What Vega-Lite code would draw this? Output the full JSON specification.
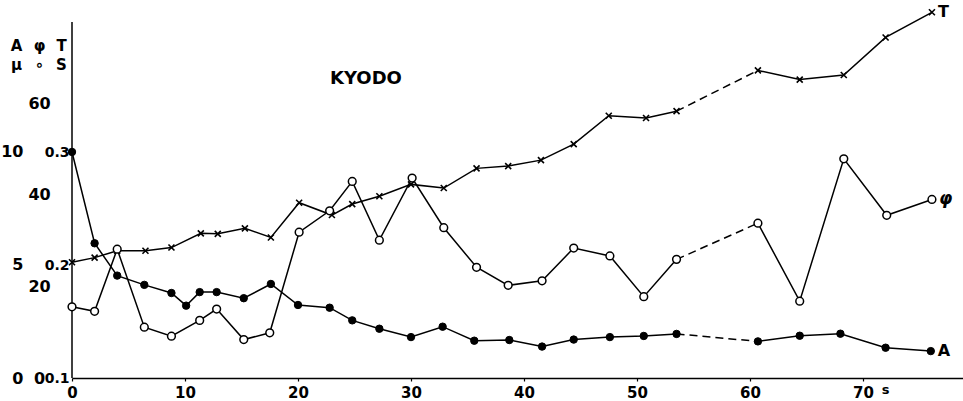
{
  "$schema": "https://vega.github.io/schema/vega-lite/v6.json",
  "width": 891,
  "height": 368,
  "autosize": "none",
  "padding": {"left": 72, "top": 10, "right": 0, "bottom": 23},
  "background": "white",
  "title": {"text": "KYODO", "anchor": "start", "frame": "group", "orient": "top", "offset": 0, "dx": 258, "dy": 84, "baseline": "top", "fontSize": 18, "font": "DejaVu Sans", "fontWeight": "bold", "color": "black"},
  "config": {"view": {"stroke": null}, "font": "DejaVu Sans"},
  "data": {"values": [
    {"series": "T", "t": 0, "v": 25.3}, {"series": "T", "t": 2.0, "v": 26.3}, {"series": "T", "t": 4.0, "v": 27.8}, {"series": "T", "t": 6.5, "v": 27.8},
    {"series": "T", "t": 8.8, "v": 28.5}, {"series": "T", "t": 11.4, "v": 31.6}, {"series": "T", "t": 12.9, "v": 31.5}, {"series": "T", "t": 15.3, "v": 32.7},
    {"series": "T", "t": 17.6, "v": 30.7}, {"series": "T", "t": 20.1, "v": 38.3}, {"series": "T", "t": 23.0, "v": 35.6}, {"series": "T", "t": 24.8, "v": 38.0},
    {"series": "T", "t": 27.2, "v": 39.7}, {"series": "T", "t": 30.0, "v": 42.3}, {"series": "T", "t": 32.9, "v": 41.5}, {"series": "T", "t": 35.8, "v": 45.8},
    {"series": "T", "t": 38.6, "v": 46.3}, {"series": "T", "t": 41.5, "v": 47.6}, {"series": "T", "t": 44.4, "v": 51.1}, {"series": "T", "t": 47.5, "v": 57.3},
    {"series": "T", "t": 50.8, "v": 56.8}, {"series": "T", "t": 53.5, "v": 58.3}, {"series": "T", "t": 60.7, "v": 67.2}, {"series": "T", "t": 64.4, "v": 65.2},
    {"series": "T", "t": 68.3, "v": 66.2}, {"series": "T", "t": 72.0, "v": 74.4}, {"series": "T", "t": 76.1, "v": 79.9},
    {"series": "φ", "t": 0, "v": 0.163}, {"series": "φ", "t": 2.0, "v": 0.159}, {"series": "φ", "t": 4.0, "v": 0.214}, {"series": "φ", "t": 6.4, "v": 0.145},
    {"series": "φ", "t": 8.8, "v": 0.137}, {"series": "φ", "t": 11.3, "v": 0.151}, {"series": "φ", "t": 12.8, "v": 0.161}, {"series": "φ", "t": 15.2, "v": 0.134},
    {"series": "φ", "t": 17.5, "v": 0.140}, {"series": "φ", "t": 20.1, "v": 0.229}, {"series": "φ", "t": 22.8, "v": 0.248}, {"series": "φ", "t": 24.8, "v": 0.274},
    {"series": "φ", "t": 27.2, "v": 0.222}, {"series": "φ", "t": 30.1, "v": 0.277}, {"series": "φ", "t": 32.9, "v": 0.233}, {"series": "φ", "t": 35.8, "v": 0.198},
    {"series": "φ", "t": 38.6, "v": 0.182}, {"series": "φ", "t": 41.6, "v": 0.186}, {"series": "φ", "t": 44.4, "v": 0.215}, {"series": "φ", "t": 47.6, "v": 0.208},
    {"series": "φ", "t": 50.6, "v": 0.172}, {"series": "φ", "t": 53.5, "v": 0.205}, {"series": "φ", "t": 60.7, "v": 0.237}, {"series": "φ", "t": 64.4, "v": 0.168},
    {"series": "φ", "t": 68.3, "v": 0.294}, {"series": "φ", "t": 72.1, "v": 0.244}, {"series": "φ", "t": 76.1, "v": 0.258},
    {"series": "A", "t": 0, "v": 10.0}, {"series": "A", "t": 2.0, "v": 5.96}, {"series": "A", "t": 4.0, "v": 4.53}, {"series": "A", "t": 6.4, "v": 4.12},
    {"series": "A", "t": 8.8, "v": 3.76}, {"series": "A", "t": 10.1, "v": 3.2}, {"series": "A", "t": 11.3, "v": 3.8}, {"series": "A", "t": 12.8, "v": 3.8},
    {"series": "A", "t": 15.2, "v": 3.53}, {"series": "A", "t": 17.6, "v": 4.16}, {"series": "A", "t": 20.0, "v": 3.23}, {"series": "A", "t": 22.8, "v": 3.11},
    {"series": "A", "t": 24.8, "v": 2.55}, {"series": "A", "t": 27.2, "v": 2.18}, {"series": "A", "t": 30.0, "v": 1.81}, {"series": "A", "t": 32.8, "v": 2.27},
    {"series": "A", "t": 35.6, "v": 1.65}, {"series": "A", "t": 38.7, "v": 1.68}, {"series": "A", "t": 41.6, "v": 1.39}, {"series": "A", "t": 44.4, "v": 1.70},
    {"series": "A", "t": 47.6, "v": 1.81}, {"series": "A", "t": 50.6, "v": 1.86}, {"series": "A", "t": 53.5, "v": 1.95}, {"series": "A", "t": 60.7, "v": 1.62},
    {"series": "A", "t": 64.4, "v": 1.87}, {"series": "A", "t": 68.0, "v": 1.96}, {"series": "A", "t": 72.0, "v": 1.34}, {"series": "A", "t": 76.0, "v": 1.19}
  ]},
  "encoding": {
    "x": {"field": "t", "type": "quantitative", "scale": {"domain": [0, 78.85], "nice": false, "zero": false},
      "axis": {"values": [0, 10, 20, 30, 40, 50, 60, 70], "grid": false, "domainColor": "black", "domainWidth": 1.5, "tickColor": "black", "tickSize": 3, "tickWidth": 1.2,
        "labelFontSize": 15, "labelFontWeight": "bold", "labelColor": "black", "labelPadding": 4, "labelFlush": false,
        "title": "s", "titleFontSize": 13, "titleFontWeight": "bold", "titleColor": "black", "titleX": 813, "titleY": 5, "titleAlign": "center", "titleBaseline": "top"}}
  },
  "layer": [
    {
      "transform": [{"filter": "datum.series === 'T'"}],
      "encoding": {"y": {"field": "v", "type": "quantitative", "scale": {"domain": [0, 80.4], "nice": false, "zero": false},
        "axis": {"orient": "left", "values": [0, 20, 40, 60], "domain": false, "ticks": false, "tickSize": 0, "grid": false,
          "labelPadding": 33, "labelAlign": "center", "labelFontSize": 16, "labelFontWeight": "bold", "labelColor": "black",
          "title": ["T", "S"], "titleAngle": 0, "titleX": -11, "titleY": 28, "titleAlign": "center", "titleBaseline": "top", "titleFontSize": 15, "titleFontWeight": "bold", "titleColor": "black", "titleLineHeight": 19}}},
      "layer": [
        {"transform": [{"filter": "datum.t > 75"}], "mark": {"type": "rule", "color": "black", "strokeWidth": 1.5}, "encoding": {"x": {"datum": 0}, "y": {"datum": 0}, "y2": {"datum": 77.8}}},
        {"transform": [{"filter": {"field": "t", "range": [0, 53.5]}}], "mark": {"type": "line", "color": "black", "strokeWidth": 1.5}},
        {"transform": [{"filter": {"field": "t", "range": [53.5, 60.7]}}], "mark": {"type": "line", "color": "black", "strokeWidth": 1.5, "strokeDash": [8, 5]}},
        {"transform": [{"filter": {"field": "t", "range": [60.7, 80]}}], "mark": {"type": "line", "color": "black", "strokeWidth": 1.5}},
        {"mark": {"type": "point", "shape": "M-1,-1L1,1M1,-1L-1,1", "size": 36, "stroke": "black", "strokeWidth": 1.6, "filled": false, "opacity": 1}},
        {"transform": [{"filter": "datum.t > 75"}], "mark": {"type": "text", "align": "left", "baseline": "middle", "dx": 6, "fontSize": 16, "fontWeight": "bold", "color": "black"}, "encoding": {"text": {"field": "series"}}}
      ]
    },
    {
      "transform": [{"filter": "datum.series === 'φ'"}],
      "encoding": {"y": {"field": "v", "type": "quantitative", "scale": {"domain": [0.1, 0.4257], "nice": false, "zero": false},
        "axis": {"orient": "left", "values": [0.1, 0.2, 0.3], "format": ".1f", "domain": false, "ticks": false, "tickSize": 0, "grid": false,
          "labelPadding": 3, "labelFontSize": 14, "labelFontWeight": "bold", "labelColor": "black",
          "title": ["φ", "∘"], "titleAngle": 0, "titleX": -33, "titleY": 28, "titleAlign": "center", "titleBaseline": "top", "titleFontSize": 15, "titleFontWeight": "bold", "titleColor": "black", "titleLineHeight": 19}}},
      "layer": [
        {"transform": [{"filter": {"field": "t", "range": [0, 53.5]}}], "mark": {"type": "line", "color": "black", "strokeWidth": 1.5}},
        {"transform": [{"filter": {"field": "t", "range": [53.5, 60.7]}}], "mark": {"type": "line", "color": "black", "strokeWidth": 1.5, "strokeDash": [8, 5]}},
        {"transform": [{"filter": {"field": "t", "range": [60.7, 80]}}], "mark": {"type": "line", "color": "black", "strokeWidth": 1.5}},
        {"mark": {"type": "point", "shape": "circle", "size": 60, "fill": "white", "stroke": "black", "strokeWidth": 1.5, "opacity": 1}},
        {"transform": [{"filter": "datum.t > 75"}], "mark": {"type": "text", "align": "left", "baseline": "middle", "dx": 7, "fontSize": 17, "fontStyle": "italic", "fontWeight": "bold", "color": "black"}, "encoding": {"text": {"field": "series"}}}
      ]
    },
    {
      "transform": [{"filter": "datum.series === 'A'"}],
      "encoding": {"y": {"field": "v", "type": "quantitative", "scale": {"domain": [0, 16.28], "nice": false, "zero": false},
        "axis": {"orient": "left", "values": [0, 5, 10], "domain": false, "ticks": false, "tickSize": 0, "grid": false,
          "labelPadding": 49, "labelFontSize": 16, "labelFontWeight": "bold", "labelColor": "black",
          "title": ["A", "μ"], "titleAngle": 0, "titleX": -56, "titleY": 28, "titleAlign": "center", "titleBaseline": "top", "titleFontSize": 15, "titleFontWeight": "bold", "titleColor": "black", "titleLineHeight": 19}}},
      "layer": [
        {"transform": [{"filter": {"field": "t", "range": [0, 53.5]}}], "mark": {"type": "line", "color": "black", "strokeWidth": 1.5}},
        {"transform": [{"filter": {"field": "t", "range": [53.5, 60.7]}}], "mark": {"type": "line", "color": "black", "strokeWidth": 1.5, "strokeDash": [8, 5]}},
        {"transform": [{"filter": {"field": "t", "range": [60.7, 80]}}], "mark": {"type": "line", "color": "black", "strokeWidth": 1.5}},
        {"mark": {"type": "point", "shape": "circle", "size": 55, "fill": "black", "stroke": "black", "strokeWidth": 1, "filled": true, "opacity": 1}},
        {"transform": [{"filter": "datum.t > 75"}], "mark": {"type": "text", "align": "left", "baseline": "middle", "dx": 7, "fontSize": 16, "fontWeight": "bold", "color": "black"}, "encoding": {"text": {"field": "series"}}}
      ]
    }
  ],
  "resolve": {"scale": {"y": "independent"}, "axis": {"y": "independent"}}
}
